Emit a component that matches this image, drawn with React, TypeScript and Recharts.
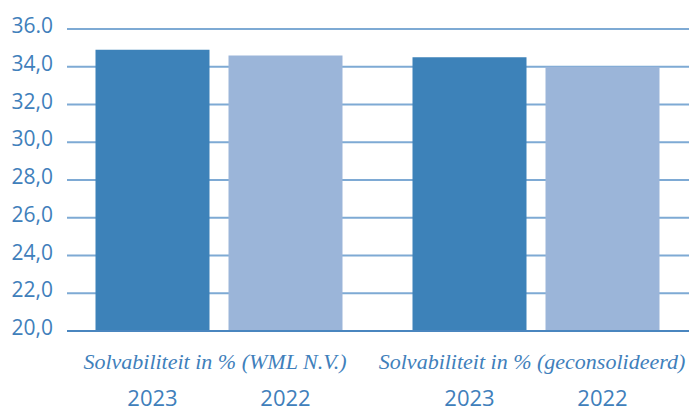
import { BarChart, Bar, XAxis, YAxis, CartesianGrid } from "recharts";

const CATEGORIES = [
  "Solvabiliteit in % (WML N.V.)",
  "Solvabiliteit in % (geconsolideerd)",
];
const VALUES_2023 = [34.9, 34.5];
const VALUES_2022 = [34.6, 34.0];
const YEARS = ["2023", "2022"];
const Y_TICKS = [20, 22, 24, 26, 28, 30, 32, 34, 36];
const Y_LABELS = ["20,0", "22,0", "24,0", "26,0", "28,0", "30,0", "32,0", "34,0", "36.0"];

const TEXT_BLUE = "#3f80bb";
const DARK_BAR = "#3d82b9";
const LIGHT_BAR = "#9bb5d9";
const GRID = "#7eaad4";

const BAR_SIZE = 114;
const BAR_GAP = 19;

const data = CATEGORIES.map((name, i) => ({
  name,
  v2023: VALUES_2023[i],
  v2022: VALUES_2022[i],
}));

// category name on the first line, one year under each bar on the second
function CategoryTick(props: any) {
  const { x, y, payload } = props;
  const off = BAR_SIZE / 2 + BAR_GAP / 2;
  return (
    <g>
      <text
        x={x - 4}
        y={y + 30}
        textAnchor="middle"
        fill={TEXT_BLUE}
        fontFamily="'Liberation Serif', serif"
        fontStyle="italic"
        fontSize={22}
      >
        {payload.value}
      </text>
      {YEARS.map((yr, i) => (
        <text
          key={yr}
          x={x + (i === 0 ? -off : off)}
          y={y + 67}
          textAnchor="middle"
          fill={TEXT_BLUE}
          fontFamily="'Open Sans', sans-serif"
          fontSize={22}
        >
          {yr}
        </text>
      ))}
    </g>
  );
}

function ValueTick(props: any) {
  const { x, y, payload } = props;
  return (
    <text
      x={x}
      y={y}
      dy={4}
      textAnchor="end"
      fill={TEXT_BLUE}
      fontFamily="'Open Sans', sans-serif"
      fontSize={21}
    >
      {Y_LABELS[Y_TICKS.indexOf(payload.value)]}
    </text>
  );
}

export default function App() {
  return (
    <div
      style={{
        position: "absolute",
        left: 0,
        top: 0,
        width: 689,
        height: 409,
        overflow: "hidden",
        background: "#fff",
      }}
    >
      <BarChart
        width={689}
        height={409}
        data={data}
        margin={{ top: 29, right: 0, left: 0, bottom: 0 }}
        barGap={BAR_GAP}
        barSize={BAR_SIZE}
      >
        <CartesianGrid vertical={false} stroke={GRID} strokeWidth={2} />
        <XAxis
          dataKey="name"
          height={78}
          padding={{ left: -6.5, right: -5.5 }}
          axisLine={{ stroke: "#4a86bf", strokeWidth: 2 }}
          tickLine={false}
          tick={<CategoryTick />}
          interval={0}
        />
        <YAxis
          width={67}
          domain={[20, 36]}
          ticks={Y_TICKS}
          allowDataOverflow
          axisLine={false}
          tickLine={false}
          tickSize={0}
          tickMargin={14}
          tick={<ValueTick />}
        />
        <Bar dataKey="v2023" fill={DARK_BAR} isAnimationActive={false} />
        <Bar dataKey="v2022" fill={LIGHT_BAR} isAnimationActive={false} />
      </BarChart>
    </div>
  );
}
